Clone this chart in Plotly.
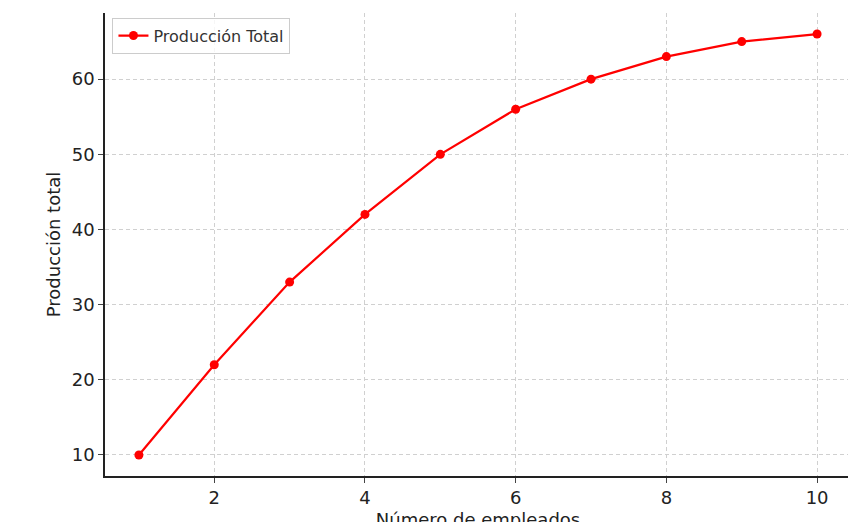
import plotly.graph_objects as go

empleados = [1, 2, 3, 4, 5, 6, 7, 8, 9, 10]
produccion = [10, 22, 33, 42, 50, 56, 60, 63, 65, 66]

fig = go.Figure(go.Scatter(x=empleados, y=produccion, mode="lines+markers",
    name="Producción Total", line=dict(color="#ff0000", width=2.2),
    marker=dict(color="#ff0000", size=9)))
fig.update_layout(
    width=856, height=522, margin=dict(l=97, r=13, t=5, b=54, autoexpand=False),
    plot_bgcolor="white", paper_bgcolor="white",
    font=dict(family="DejaVu Sans", size=18, color="#222"),
    showlegend=True,
    legend=dict(x=0.01, y=0.99, xanchor="left", yanchor="top",
                bordercolor="#ccc", borderwidth=1, bgcolor="rgba(255,255,255,0.8)",
                font=dict(size=16, color="#333")),
)
grid = dict(showgrid=True, gridcolor="#d0d0d0", griddash="4px,3px", gridwidth=1,
            showline=True, linecolor="#222", linewidth=1.5, ticks="outside",
            ticklen=5, zeroline=False, mirror=False, automargin=False,
            tickfont=dict(size=18, color="#222"))
fig.update_xaxes(range=[0.55, 10.45], tickvals=[2, 4, 6, 8, 10],
                 title=dict(text="Número de empleados", standoff=6, font=dict(size=18)), **grid)
fig.update_yaxes(range=[7.2, 68.8], tickvals=[10, 20, 30, 40, 50, 60],
                 title=dict(text="Producción total", standoff=6, font=dict(size=18)), **grid)
fig.write_html("out.html")
